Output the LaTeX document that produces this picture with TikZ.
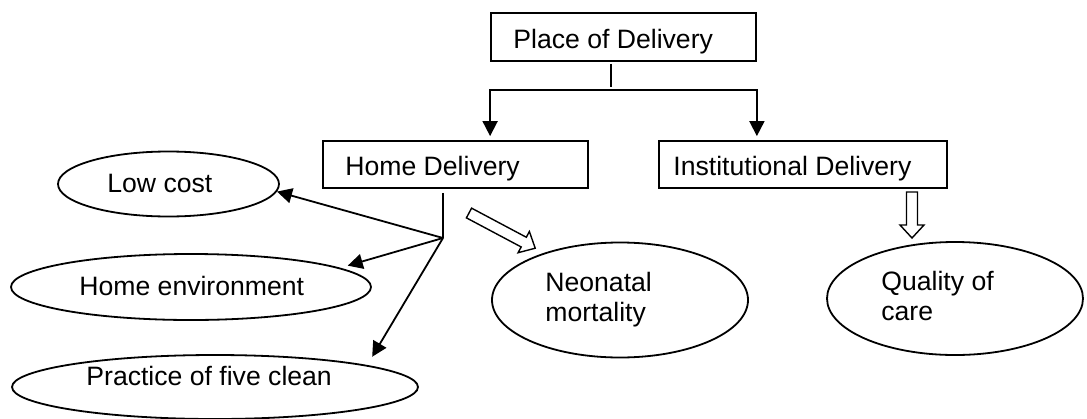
\documentclass[tikz,border=0pt]{standalone}
\usepackage{fontspec}
\setmainfont{Liberation Sans}
\usepackage{tikz}
\usetikzlibrary{calc,positioning,arrows.meta,shapes.geometric}

\begin{document}
\begin{tikzpicture}[x=0.5pt, y=-0.5pt,
  every node/.style={font=\fontsize{13.3}{14.75}\selectfont},
  box/.style={draw, line width=0.9pt, rectangle, inner sep=0pt},
  oval/.style={draw, line width=0.9pt, ellipse, inner sep=0pt},
  txt/.style={inner sep=0pt, anchor=base west, align=left},
  line/.style={line width=0.9pt},
  arr/.style={line width=0.9pt, -{Triangle[length=7.5pt, width=7.5pt]}},
  pics/blockarrow/.style={code={
    \draw[line width=0.7pt, fill=white] (0,-5.5) -- (#1-13,-5.5) -- (#1-13,-12) -- (#1,0)
      -- (#1-13,12) -- (#1-13,5.5) -- (0,5.5) -- cycle;}}]
  \useasboundingbox (0,0) rectangle (1087,418);

  % Boxes
  \node[box, minimum width=132.5pt, minimum height=24pt] (place) at (623.5,37) {};
  \node[box, minimum width=132.5pt, minimum height=23.5pt] (home) at (455.5,164.5) {};
  \node[box, minimum width=144pt, minimum height=23.5pt] (inst) at (803,164.5) {};

  % Ellipses
  \node[oval, minimum width=110.5pt, minimum height=32.5pt] (lowcost) at (168.5,184) {};
  \node[oval, minimum width=180pt, minimum height=33pt] (homeenv) at (191,287) {};
  \node[oval, minimum width=203pt, minimum height=32pt] (practice) at (215,387) {};
  \node[oval, minimum width=128pt, minimum height=57.5pt] (neo) at (620,300) {};
  \node[oval, minimum width=128pt, minimum height=56.5pt] (quality) at (955,298.5) {};

  % Texts
  \node[txt] (tplace) at (513,48) {Place of Delivery};
  \node[txt] (thome) at (345,175) {Home Delivery};
  \node[txt] (tinst) at (673,175) {Institutional Delivery};
  \node[txt] (tlow) at (107,192) {Low cost};
  \node[txt] (tenv) at (79,295) {Home environment};
  \node[txt] (tpractice) at (86,385) {Practice of five clean};
  \node[txt] (tneo) at (545,321) {Neonatal\\mortality};
  \node[txt] (tquality) at (881,320) {Quality of\\care};

  % Split below Place of Delivery
  \coordinate (split) at (611,90);
  \draw[line] ([yshift=-1pt]place.south -| split) -- ([yshift=1.5pt]split);
  \draw[arr] (split) -| ([yshift=2pt]place.west |- home.north);
  \draw[arr] (split) -| ([yshift=2pt]place.east |- inst.north);

  % Home delivery branches
  \coordinate (hub) at (443,238);
  \draw[line] ([yshift=-2pt]home.south -| hub) -- (hub);
  \draw[arr] (hub) -- (lowcost.-4);
  \draw[arr] (hub) -- ([shift={(12,-1)}]homeenv.8);
  \draw[arr] (hub) -- ([shift={(13,-7)}]practice.north east);

  % Outcome arrows
  \coordinate (neotail) at (469,213);
  \coordinate (qualtail) at (912,192);
  \pic[rotate=-28] at (neotail) {blockarrow=75};
  \pic[rotate=-90] at (qualtail) {blockarrow=46};
\end{tikzpicture}
\end{document}
